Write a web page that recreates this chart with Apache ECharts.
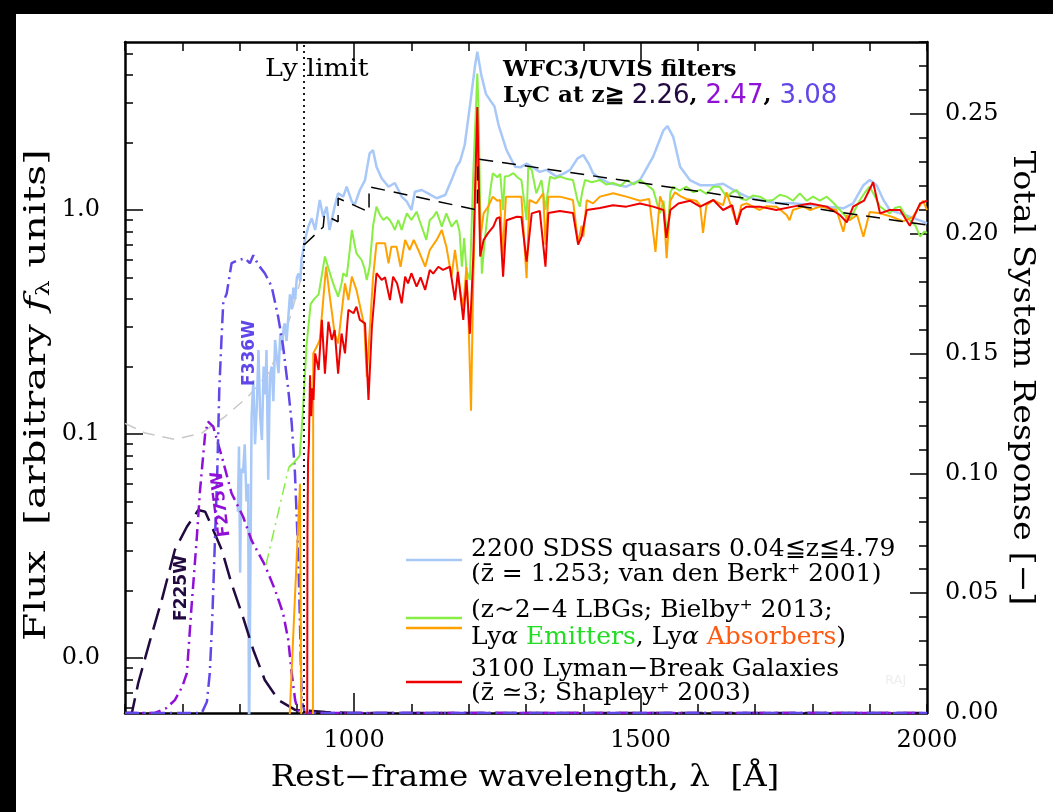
<!DOCTYPE html>
<html><head><meta charset="utf-8">
<script src="https://cdn.jsdelivr.net/npm/echarts@6/dist/echarts.min.js"></script>
<style>html,body{margin:0;padding:0;background:#fff;}#c{width:1053px;height:812px;}</style>
</head><body><div id="c"></div>
<script>
// ---- tick values ----
const xTickLabels = [1000, 1500, 2000];
const xMajorTicks = [1000, 1500];
const fluxTickLabels = [0.01, 0.1, 1];
const fluxMinorTicks = [0.006,0.007,0.008,0.009,0.02,0.03,0.04,0.05,0.06,0.07,0.08,0.09,0.2,0.3,0.4,0.5,0.6,0.7,0.8,0.9,2,3,4,5];
const respTickLabels = [0, 0.05, 0.10, 0.15, 0.20, 0.25];
const respMajorTicks = [0.05, 0.10, 0.15, 0.20, 0.25];
const lyLimit = 912;

// ---- spectra: [wavelength (A), flux] ----
const grayExtrap = [[600,0.1116],[635,0.101],[687,0.0945],[734,0.101],[774,0.1193],[815,0.147],[853,0.19],[888,0.33],[905,0.47],[911,0.578]];
const quasar = [[797,0.045],[799,0.088],[801,0.024],[803,0.07],[806,0.067],[809,0.09],[812,0.05],[815,0.06],[816.5,0.004],[819.5,0.004],[821,0.12],[824,0.174],[827,0.09],[830,0.132],[833,0.237],[836,0.12],[839,0.094],[842,0.2],[845,0.15],[847,0.237],[850,0.0625],[853,0.18],[856,0.2],[859,0.14],[862,0.263],[865,0.22],[868,0.187],[871,0.28],[874,0.237],[877,0.3],[879,0.312],[882,0.26],[885,0.33],[888,0.42],[891,0.36],[894,0.45],[897,0.40],[900,0.50],[903,0.52],[906,0.48],[908,0.6],[911,0.66],[914,0.735],[920,0.842],[926,0.918],[932,0.814],[940,1.108],[946,0.933],[952,1.035],[957,0.814],[966,1.035],[972,1.187],[981,1.147],[987,1.27],[996,1.09],[1001,1.053],[1010,1.228],[1019,1.36],[1027,1.79],[1033,1.85],[1039,1.56],[1048,1.385],[1060,1.27],[1071,1.32],[1083,1.147],[1092,1.09],[1100,1.0],[1106,1.207],[1118,1.228],[1129,1.187],[1144,1.128],[1159,1.167],[1170,1.36],[1179,1.56],[1185,1.65],[1193,1.95],[1202,2.9],[1211,4.4],[1215,5.09],[1222,4.0],[1230,3.3],[1237,3.1],[1245,2.9],[1252,2.4],[1266,1.85],[1281,1.56],[1290,1.55],[1301,1.61],[1312,1.55],[1324,1.48],[1336,1.51],[1353,1.41],[1365,1.45],[1377,1.51],[1390,1.70],[1400,1.76],[1410,1.6],[1417,1.46],[1430,1.38],[1446,1.315],[1475,1.27],[1499,1.36],[1522,1.73],[1540,2.27],[1547,2.37],[1557,2.12],[1569,1.56],[1586,1.36],[1604,1.29],[1627,1.29],[1644,1.31],[1662,1.23],[1685,1.147],[1708,1.108],[1737,1.071],[1766,1.071],[1796,1.053],[1825,1.035],[1854,1.017],[1871,1.071],[1889,1.29],[1900,1.36],[1912,1.29],[1924,1.108],[1935,1.0],[1953,0.966],[1970,0.934],[1993,0.887],[2000,0.872]];
const lbgEmitExtrap = [[846,0.026],[886,0.071]];
const lbgEmit = [[886,0.071],[896,0.075],[905,0.08],[910,0.12],[917,0.25],[924,0.38],[930,0.40],[938,0.42],[944,0.52],[949,0.62],[955,0.55],[961,0.49],[966,0.45],[972,0.41],[978,0.47],[981,0.522],[987,0.504],[992,0.65],[996,0.814],[1000,0.72],[1004,0.64],[1013,0.598],[1018,0.55],[1022,0.487],[1027,0.558],[1033,0.85],[1039,1.035],[1045,0.95],[1051,0.902],[1057,0.93],[1062,0.902],[1067,0.86],[1071,0.814],[1077,0.902],[1083,0.814],[1088,0.9],[1092,0.966],[1100,0.902],[1109,0.983],[1114,0.9],[1118,0.842],[1126,0.735],[1132,0.902],[1138,0.93],[1144,0.983],[1153,0.842],[1161,0.966],[1170,0.842],[1179,0.902],[1184,0.8],[1188,0.558],[1192,0.75],[1196,0.54],[1202,0.487],[1208,1.46],[1215,4.07],[1217,2.89],[1220,1.035],[1223,0.52],[1228,0.735],[1237,1.187],[1242,1.46],[1250,1.40],[1255,1.45],[1260,1.0],[1263,1.41],[1270,1.42],[1278,1.46],[1285,1.40],[1292,1.36],[1301,0.9],[1304,1.56],[1310,1.51],[1318,1.187],[1327,1.36],[1334,1.0],[1336,1.108],[1342,1.41],[1350,1.38],[1359,1.41],[1370,1.38],[1382,1.36],[1390,1.1],[1394,1.035],[1398,1.2],[1403,1.36],[1415,1.33],[1429,1.36],[1440,1.30],[1452,1.32],[1465,1.28],[1476,1.36],[1488,1.30],[1499,1.36],[1510,1.30],[1522,1.23],[1534,0.966],[1540,1.1],[1547,0.75],[1552,1.2],[1557,1.27],[1568,1.22],[1580,1.27],[1592,1.2],[1604,1.23],[1615,1.18],[1627,1.27],[1638,1.27],[1650,1.147],[1660,1.2],[1668,1.23],[1676,1.12],[1685,1.108],[1696,1.16],[1708,1.147],[1720,1.1],[1731,1.108],[1743,1.17],[1755,1.147],[1766,1.1],[1778,1.187],[1790,1.1],[1801,1.147],[1813,1.1],[1825,1.147],[1836,1.08],[1848,1.0],[1856,0.95],[1865,0.9],[1874,1.0],[1883,1.108],[1892,1.2],[1900,1.27],[1909,1.15],[1918,1.035],[1926,1.0],[1935,0.966],[1944,1.02],[1953,1.035],[1962,0.95],[1970,0.9],[1980,0.85],[1988,0.76],[1995,0.8],[2000,0.79]];
const lbgAbsBlue = [[885,0.004],[905.5,0.06],[906.5,0.06],[908,0.004]];
const lbgAbs = [[928,0.004],[928.6,0.229],[934.6,0.245],[940,0.263],[946,0.396],[951,0.558],[957.5,0.41],[966,0.281],[972,0.254],[978,0.346],[984,0.47],[990,0.396],[996,0.504],[1004,0.44],[1013,0.346],[1018,0.3],[1022,0.18],[1027.6,0.301],[1033,0.5],[1039,0.71],[1054,0.71],[1060,0.578],[1065,0.686],[1074,0.686],[1081,0.558],[1089,0.735],[1097,0.663],[1104,0.735],[1112,0.663],[1124,0.558],[1132,0.663],[1144,0.735],[1153,0.814],[1161,0.686],[1170,0.504],[1176,0.663],[1185,0.44],[1190.5,0.37],[1196,0.558],[1200,0.3],[1204,0.127],[1208,0.5],[1215,2.5],[1217,1.5],[1220,0.735],[1226,0.966],[1234,1.035],[1242,1.147],[1250,1.1],[1255,1.108],[1259,0.62],[1265,1.147],[1278,1.147],[1292,1.147],[1301,0.496],[1306,1.108],[1318,1.07],[1330,1.187],[1334,0.7],[1339,1.147],[1359,1.147],[1382,1.108],[1391,0.71],[1397,0.85],[1400,0.76],[1406,1.108],[1417,1.07],[1429,1.147],[1452,1.187],[1475,1.147],[1499,1.1],[1515,1.12],[1526,0.65],[1534,1.15],[1540,1.05],[1545.5,0.61],[1552,1.1],[1560,1.2],[1570,1.15],[1580,1.12],[1597,1.1],[1604,1.05],[1609,0.79],[1615,1.05],[1627,1.108],[1644,1.05],[1650,1.2],[1660,1.0],[1668,0.872],[1676,1.05],[1685,1.07],[1708,1.0],[1720,1.04],[1737,1.035],[1755,0.95],[1760,0.9],[1766,1.0],[1784,1.035],[1796,1.0],[1813,1.035],[1842,1.0],[1854,0.8],[1860,0.95],[1865,0.9],[1878,0.95],[1889,0.76],[1900,0.98],[1918,0.966],[1940,0.93],[1958,0.89],[1975,0.93],[1993,1.1],[2000,1.0]];
const shapleyLBG = [[918,0.004],[918.5,0.036],[919.5,0.075],[921,0.09],[923,0.183],[925,0.12],[927,0.16],[929,0.142],[932,0.229],[938,0.193],[943.6,0.323],[949,0.186],[955,0.317],[961,0.263],[966,0.291],[972,0.186],[978,0.281],[984,0.229],[990,0.358],[999,0.346],[1004,0.37],[1010,0.323],[1019,0.312],[1025,0.142],[1031,0.301],[1039,0.522],[1048,0.487],[1054,0.5],[1062.5,0.396],[1068,0.504],[1075,0.47],[1083,0.383],[1089,0.504],[1094,0.47],[1100,0.522],[1109,0.455],[1116,0.5],[1124,0.44],[1132,0.54],[1138,0.52],[1147,0.558],[1155,0.54],[1167,0.558],[1176,0.396],[1181,0.53],[1190.5,0.323],[1196,0.487],[1202,0.28],[1208,0.62],[1215,2.88],[1218,1.2],[1220,0.62],[1226,0.735],[1234,0.79],[1243,0.842],[1249,0.918],[1254,0.93],[1260,0.504],[1266,0.9],[1284,0.933],[1292,0.93],[1301,0.588],[1310,0.966],[1324,0.99],[1334,0.558],[1339,0.97],[1359,0.99],[1382,0.97],[1391,0.70],[1397,0.76],[1406,1.0],[1429,1.02],[1452,1.05],[1475,1.035],[1499,1.07],[1522,1.035],[1540,1.0],[1545,0.75],[1552,1.0],[1566,1.07],[1586,1.1],[1604,1.035],[1627,1.108],[1644,1.0],[1660,1.05],[1668,0.86],[1676,1.0],[1685,1.035],[1708,1.035],[1737,1.0],[1766,1.035],[1796,1.07],[1825,1.035],[1848,0.95],[1860,0.88],[1871,1.035],[1890,1.1],[1906,1.33],[1918,0.966],[1935,1.0],[1953,1.0],[1970,0.85],[1988,1.07],[2000,1.1]];
const continuumModel = [[913,0.70],[946,0.84],[948,0.84],[948,0.95],[972,0.886],[972,1.128],[1026,0.98],[1026,1.27],[1215,1.0],[1216,1.69],[2000,0.857]];

// ---- filter total system response (rest frame) ----
const f225w = [[600,0],[612,0],[623,0.0124],[644,0.0305],[664,0.047],[687,0.068],[708,0.0777],[728,0.0847],[740,0.084],[754,0.0764],[769,0.068],[786,0.054],[806,0.040],[824,0.0263],[844,0.0138],[868,0.0054],[897,0.0013],[950,0.0004],[1000,0],[2000,0]];
const f275w = [[600,0],[652,0],[672,0.002],[687,0.0054],[700,0.011],[708,0.0166],[716,0.044],[725,0.072],[731,0.093],[740,0.1167],[745,0.1216],[754,0.1195],[769,0.107],[786,0.0917],[806,0.082],[821,0.072],[844,0.0618],[862,0.0513],[876,0.0416],[885,0.0305],[891,0.0167],[897,0.0054],[902,0.001],[910,0],[2000,0]];
const f336w = [[600,0],[734,0],[743,0.0047],[748,0.0166],[752,0.037],[757,0.072],[761,0.100],[764.6,0.135],[768.8,0.158],[771.6,0.1716],[777.5,0.175],[786,0.1877],[798,0.189],[809.5,0.1897],[818,0.1877],[824,0.191],[832.7,0.187],[844,0.1835],[856,0.178],[867.6,0.165],[876,0.153],[885,0.135],[891,0.121],[896.7,0.100],[902.5,0.065],[905.5,0.037],[908.4,0.0054],[914,0],[2000,0]];

const C = {qso:'#a8c8f8', emit:'#88ee44', abs:'#ffa200', lbg:'#ee0000', f225:'#220a40', f275:'#9010d8', f336:'#6048e8', gray:'#c8c8c8'};
const SERIF = 'DejaVu Serif';

function line(name, data, color, width, type, yi, extra) {
  return Object.assign({name, type:'line', data, xAxisIndex:0, yAxisIndex:yi, showSymbol:false, symbol:'none',
    lineStyle:{color, width, type}, silent:true, animation:false}, extra || {});
}

const chart = echarts.init(document.getElementById('c'), null, {renderer:'canvas'});
const axisLineStyle = {show:true, onZero:false, lineStyle:{color:'#000', width:2.5}};
const tickStyle = {color:'#000', width:1.5};
const lblStyle = {fontFamily:SERIF, fontSize:24, color:'#000'};

function text(x, y, str, style, extra) {
  return Object.assign({type:'text', x, y, z:100, style:Object.assign({text:str, fill:'#000', fontFamily:SERIF, fontSize:25, align:'left', verticalAlign:'middle'}, style)}, extra || {});
}
function seg(x1, y1, x2, color) {
  return {type:'line', z:100, shape:{x1, y1, x2, y2:y1}, style:{stroke:color, lineWidth:2.5}};
}

const graphics = [
  {type:'rect', z:200, shape:{x:0,y:0,width:1053,height:14}, style:{fill:'#000'}},
  {type:'rect', z:200, shape:{x:0,y:0,width:16,height:812}, style:{fill:'#000'}},
  text(265, 69, 'Ly limit', {fontSize:25}, {scaleX:1.08}),
  text(503, 70, 'WFC3/UVIS filters', {fontSize:22.5, fontWeight:'bold'}, {scaleX:1.02}),
  text(503, 96, '{b|LyC at z≧ }{c1|2.26}{b|, }{c2|2.47}{b|, }{c3|3.08}', {rich:{
    b:{fontFamily:SERIF, fontWeight:'bold', fontSize:23, fill:'#000'},
    c1:{fontFamily:'DejaVu Sans', fontSize:26, fill:C.f225},
    c2:{fontFamily:'DejaVu Sans', fontSize:26, fill:C.f275},
    c3:{fontFamily:'DejaVu Sans', fontSize:26, fill:C.f336}}}),
  text(182, 588, 'F225W', {fontFamily:'DejaVu Sans', fontWeight:'bold', fontSize:17, fill:C.f225, align:'center'}, {rotation:Math.PI/2}),
  text(221, 504, 'F275W', {fontFamily:'DejaVu Sans', fontWeight:'bold', fontSize:17, fill:C.f275, align:'center'}, {rotation:97*Math.PI/180}),
  text(250, 353, 'F336W', {fontFamily:'DejaVu Sans', fontWeight:'bold', fontSize:17, fill:C.f336, align:'center'}, {rotation:Math.PI/2}),
  seg(406, 560, 462, C.qso),
  seg(406, 618, 462, C.emit),
  seg(406, 628, 462, C.abs),
  seg(406, 682, 462, C.lbg),
  text(471, 549, '2200 SDSS quasars 0.04≦z≦4.79'),
  text(471, 574, '(z̄ = 1.253; van den Berk⁺ 2001)'),
  text(471, 610, '(z∼2−4 LBGs; Bielby⁺ 2013;'),
  text(471, 637, 'Ly{i|α} {g|Emitters}, Ly{i|α} {o|Absorbers})', {rich:{
    i:{fontFamily:SERIF, fontStyle:'italic', fontSize:25, fill:'#000'},
    g:{fontFamily:SERIF, fontSize:25, fill:'#22dd22'},
    o:{fontFamily:SERIF, fontSize:25, fill:'#ff5a10'}}}),
  text(471, 669, '3100 Lyman−Break Galaxies'),
  text(471, 693, '(z̄ ≃3; Shapley⁺ 2003)'),
  text(885, 681, 'RAJ', {fontSize:13, fill:'#eeeeee', fontFamily:'DejaVu Sans'}),
  text(37, 395, 'Flux  [arbitrary {i|f}{s|λ} units]', {fontSize:29, align:'center', rich:{
    i:{fontFamily:SERIF, fontStyle:'italic', fontSize:29, fill:'#000'},
    s:{fontFamily:SERIF, fontSize:18, fill:'#000', padding:[15,0,0,0]}}}, {rotation:Math.PI/2, scaleX:1.4}),
  text(1022, 378, 'Total System Response [−]', {fontSize:29, align:'center'}, {rotation:-Math.PI/2, scaleX:1.15}),
  text(525, 778, 'Rest−frame wavelength, λ  [Å]', {fontSize:29, align:'center'}, {scaleX:1.12})
];

const option = {
  animation:false,
  backgroundColor:'#fff',
  grid:{left:125, right:126, top:42, bottom:99, containLabel:false, show:false},
  xAxis:[
    {type:'value', min:600, max:2000, interval:100, position:'bottom', axisLine:axisLineStyle,
     axisTick:{inside:true, length:9, lineStyle:tickStyle},
     axisLabel:Object.assign({customValues:xTickLabels, margin:16, formatter:v => String(v)}, lblStyle), splitLine:{show:false}},
    {type:'value', min:600, max:2000, position:'bottom', axisLine:{show:false, onZero:false},
     axisTick:{customValues:xMajorTicks, inside:true, length:20, lineStyle:tickStyle}, axisLabel:{show:false}, splitLine:{show:false}},
    {type:'value', min:600, max:2000, interval:100, position:'top', axisLine:axisLineStyle,
     axisTick:{inside:true, length:9, lineStyle:tickStyle}, axisLabel:{show:false}, splitLine:{show:false}},
    {type:'value', min:600, max:2000, position:'top', axisLine:{show:false, onZero:false},
     axisTick:{customValues:xMajorTicks, inside:true, length:20, lineStyle:tickStyle}, axisLabel:{show:false}, splitLine:{show:false}}
  ],
  yAxis:[
    {type:'log', logBase:10, min:0.00568, max:5.623, position:'left', axisLine:axisLineStyle,
     axisTick:{customValues:fluxTickLabels, inside:true, length:18, lineStyle:tickStyle},
     axisLabel:Object.assign({customValues:fluxTickLabels, margin:25, formatter:v => Number(v).toFixed(1)}, lblStyle),
     splitLine:{show:false}},
    {type:'value', min:0, max:0.28, interval:0.01, position:'right', axisLine:axisLineStyle,
     axisTick:{inside:true, length:8, lineStyle:tickStyle},
     axisLabel:Object.assign({customValues:respTickLabels, margin:18, formatter:v => Number(v).toFixed(2)}, lblStyle),
     splitLine:{show:false}},
    {type:'log', logBase:10, min:0.00568, max:5.623, position:'left', axisLine:{show:false, onZero:false},
     axisTick:{customValues:fluxMinorTicks, inside:true, length:8, lineStyle:tickStyle}, axisLabel:{show:false}, splitLine:{show:false}},
    {type:'value', min:0, max:0.28, position:'right', axisLine:{show:false, onZero:false},
     axisTick:{customValues:respMajorTicks, inside:true, length:17, lineStyle:tickStyle}, axisLabel:{show:false}, splitLine:{show:false}}
  ],
  series:[
    line('extrapolation', grayExtrap, C.gray, 1.5, [12,8], 0),
    line('SDSS quasars', quasar, C.qso, 2.5, 'solid', 0),
    line('F225W', f225w, C.f225, 2.5, [22,9], 1),
    line('F275W', f275w, C.f275, 2.5, [12,5,2,5], 1),
    line('F336W', f336w, C.f336, 2.5, [14,5,2,5], 1),
    line('LAE extrapolation', lbgEmitExtrap, C.emit, 1.5, [12,5,2,5], 0),
    line('LBG Lya emitters', lbgEmit, C.emit, 2, 'solid', 0),
    line('LBG Lya absorbers (blue)', lbgAbsBlue, C.abs, 2, 'solid', 0),
    line('LBG Lya absorbers', lbgAbs, C.abs, 2, 'solid', 0),
    line('Shapley LBG', shapleyLBG, C.lbg, 2, 'solid', 0),
    line('continuum', continuumModel, '#000', 1.5, [14,9], 0, {
      markLine:{silent:true, symbol:'none', animation:false, label:{show:false},
        lineStyle:{color:'#000', width:1.8, type:[2,4]}, data:[{xAxis:lyLimit}]}})
  ],
  graphic:graphics
};
chart.setOption(option);
</script></body></html>
